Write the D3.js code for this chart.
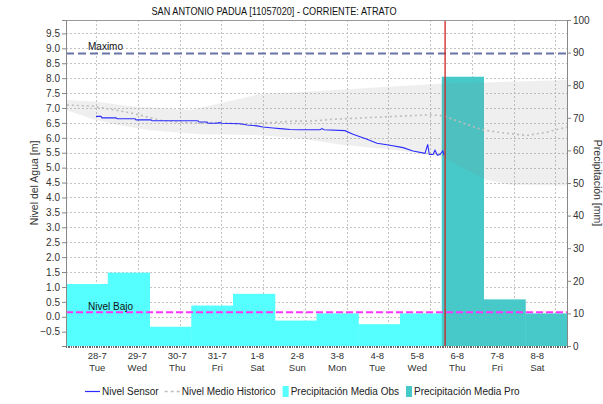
<!DOCTYPE html>
<html><head><meta charset="utf-8">
<script src="https://cdn.jsdelivr.net/npm/d3@7"></script>
<style>
body{margin:0;background:#fff;}
svg{display:block;font-family:"Liberation Sans",Arial,sans-serif;}
</style>
</head><body>
<svg id="c" width="603" height="404"></svg>
<script>
// ---------------- data ----------------
const chartTitle = "SAN ANTONIO PADUA [11057020] - CORRIENTE: ATRATO";
const dayLabels = ["28-7","29-7","30-7","31-7","1-8","2-8","3-8","4-8","5-8","6-8","7-8","8-8"];
const weekdayLabels = ["Tue","Wed","Thu","Fri","Sat","Sun","Mon","Tue","Wed","Thu","Fri","Sat"];
// daily precipitation [mm] (observed then forecast)
const precipObs = [19.0, 22.5, 5.9, 12.4, 16.0, 7.8, 10.0, 6.7, 10.0];
const precipPro = [82.6, 14.3, 10.0];
// sensor level: time in days since 28-7 00:00, level in m
const sensorDays = [0.719,0.838,0.862,1.198,1.222,1.653,1.677,2.036,2.060,3.162,3.186,3.377,3.401,3.617,3.665,3.737,4.168,4.335,4.575,4.719,4.958,5.198,5.365,5.605,6.084,6.132,6.180,6.683,6.874,7.210,7.449,7.760,8.072,8.311,8.599,8.663,8.702,8.790,8.838,8.893,8.958,9.023,9.061];
const sensorLevel = [6.72,6.72,6.67,6.67,6.64,6.64,6.60,6.60,6.57,6.57,6.53,6.53,6.49,6.49,6.51,6.49,6.47,6.43,6.40,6.36,6.33,6.30,6.28,6.27,6.27,6.31,6.27,6.24,6.12,5.95,5.82,5.75,5.67,5.56,5.48,5.78,5.44,5.44,5.58,5.42,5.44,5.56,5.41];
// historic mean level
const histDays = [0.02,0.647,1.461,1.772,2.251,2.730,3.210,3.689,4.168,4.647,5.437,5.844,6.395,7.593,8.719,9.030,9.437,9.988,10.563,11.042,11.521,12.0];
const histLevel = [7.10,7.06,6.86,6.76,6.59,6.52,6.49,6.52,6.46,6.49,6.56,6.56,6.62,6.70,6.77,6.74,6.53,6.26,6.15,6.08,6.19,6.36];
// historic range (band)
const bandUpperDays = [0,0.743,1.533,2.251,2.970,3.689,4.647,5.844,6.802,8.0,8.982,10.395,12.0];
const bandUpper = [7.27,7.21,7.06,7.00,6.93,7.16,7.47,7.55,7.64,7.74,7.81,7.87,7.94];
const bandLowerDays = [0,0.647,1.293,2.012,3.210,4.647,5.605,6.563,7.760,8.982,10.036,10.635,12.0];
const bandLower = [6.93,6.62,6.42,6.25,6.12,6.09,5.98,5.78,5.61,5.38,4.60,4.43,4.40];
const nivelMaximo = 8.83;
const nivelBajo = 0.15;
const nowDay = 9.08;
const gridDays = [0.72,1.72,2.72,3.72,4.72,5.72,6.72,7.72,8.72,9.72,10.72,11.72];
const levelTicks = d3.range(-0.5, 9.51, 0.5);
const precipTicks = d3.range(0, 101, 10);

// ---------------- layout ----------------
const L = 66, R = 567, T = 20, B = 346;
const svg = d3.select("#c");

const x = d3.scaleLinear().domain([0, 12]).range([L, R]);
const yL = d3.scaleLinear().domain([-0.98, 9.95]).range([B, T]);
const yR = d3.scaleLinear().domain([0, 100]).range([B, T]);
const xLab = d3.scalePoint().domain(d3.range(12)).range([97.3, 537.3]);

// background
svg.append("rect").attr("x", L).attr("y", T).attr("width", R - L).attr("height", B - T).attr("fill", "#fff");

// grid
const grid = svg.append("g").attr("stroke", "#c4c4c4").attr("stroke-width", 1).attr("stroke-dasharray", "2,2");
grid.selectAll("line.h").data(levelTicks).join("line")
  .attr("x1", L).attr("x2", R).attr("y1", d => Math.round(yL(d)) + 0.5).attr("y2", d => Math.round(yL(d)) + 0.5);
grid.selectAll("line.v").data(gridDays).join("line")
  .attr("x1", d => Math.round(x(d)) + 0.5).attr("x2", d => Math.round(x(d)) + 0.5).attr("y1", T).attr("y2", B);

// precipitation bars
svg.append("g").selectAll("rect").data(precipObs).join("rect")
  .attr("x", (d, i) => x(i)).attr("width", (d, i) => x(i + 1) - x(i) + 0.5)
  .attr("y", d => yR(d)).attr("height", d => B - yR(d)).attr("fill", "#55ffff");
svg.append("g").selectAll("rect").data(precipPro).join("rect")
  .attr("x", (d, i) => x(i + precipObs.length)).attr("width", (d, i) => x(i + 1) - x(i) + 0.5)
  .attr("y", d => yR(d)).attr("height", d => B - yR(d)).attr("fill", "#47c9c9");

// band
const bandPts = bandUpperDays.map((d, i) => [x(d), yL(bandUpper[i])])
  .concat(bandLowerDays.map((d, i) => [x(d), yL(bandLower[i])]).reverse());
svg.append("path").attr("d", d3.line()(bandPts) + "Z").attr("fill", "#808080").attr("fill-opacity", 0.13);

// historic mean (dotted)
svg.append("path")
  .attr("d", d3.line().x((d, i) => x(d)).y((d, i) => yL(histLevel[i]))(histDays))
  .attr("fill", "none").attr("stroke", "#bdbdbd").attr("stroke-width", 1.6).attr("stroke-dasharray", "2,3");

// sensor line
svg.append("path")
  .attr("d", d3.line().x(d => x(d)).y((d, i) => yL(sensorLevel[i]))(sensorDays))
  .attr("fill", "none").attr("stroke", "#2b2bff").attr("stroke-width", 1.1);

// reference levels
svg.append("line").attr("x1", L).attr("x2", R).attr("y1", yL(nivelMaximo)).attr("y2", yL(nivelMaximo))
  .attr("stroke", "#6874a6").attr("stroke-width", 2).attr("stroke-dasharray", "8,4");
svg.append("text").attr("x", 88).attr("y", yL(nivelMaximo) - 3).attr("font-size", 10).attr("fill", "#111").text("Maximo");
svg.append("line").attr("x1", L).attr("x2", R).attr("y1", yL(nivelBajo)).attr("y2", yL(nivelBajo))
  .attr("stroke", "#ff33ff").attr("stroke-width", 2).attr("stroke-dasharray", "7,3");
svg.append("text").attr("x", 88).attr("y", yL(nivelBajo) - 2).attr("font-size", 10).attr("fill", "#111").text("Nivel Bajo");

// now marker
svg.append("line").attr("x1", x(nowDay)).attr("x2", x(nowDay)).attr("y1", T).attr("y2", B)
  .attr("stroke", "#d02020").attr("stroke-width", 1.3);

// frame / axes
svg.append("line").attr("x1", L).attr("x2", R).attr("y1", T + 0.5).attr("y2", T + 0.5).attr("stroke", "#999");
const axL = svg.append("g").attr("transform", `translate(${L},0)`)
  .call(d3.axisLeft(yL).tickValues(levelTicks).tickFormat(d3.format(".1f")).tickSize(4).tickPadding(2));
const axR = svg.append("g").attr("transform", `translate(${R},0)`)
  .call(d3.axisRight(yR).tickValues(precipTicks).tickSize(4).tickPadding(2));
[axL, axR].forEach(a => {
  a.select(".domain").attr("stroke", "#888");
  a.selectAll(".tick line").attr("stroke", "#888");
  a.selectAll(".tick text").attr("font-size", 10).attr("fill", "#333").attr("font-family", "Liberation Sans, Arial, sans-serif");
});

// hourly minor ticks along the bottom
svg.append("g").selectAll("line").data(d3.range(0, 12 * 24 + 1)).join("line")
  .attr("x1", h => Math.round(x(h / 24)) + 0.5).attr("x2", h => Math.round(x(h / 24)) + 0.5)
  .attr("y1", B).attr("y2", B + 2).attr("stroke", "#666");

// x labels
const xl = svg.append("g").attr("font-size", 9.5).attr("fill", "#333").attr("text-anchor", "middle");
xl.selectAll("text.d").data(dayLabels).join("text").attr("x", (d, i) => xLab(i)).attr("y", 359).text(d => d);
xl.selectAll("text.w").data(weekdayLabels).join("text").attr("x", (d, i) => xLab(i)).attr("y", 371).text(d => d);

// axis titles
svg.append("text").attr("transform", "translate(38,183) rotate(-90)").attr("text-anchor", "middle")
  .attr("font-size", 10.5).attr("fill", "#333").text("Nivel del Agua [m]");
svg.append("text").attr("transform", "translate(594,183) rotate(90)").attr("text-anchor", "middle")
  .attr("font-size", 10.5).attr("fill", "#333").text("Precipitación [mm]");

// title
svg.append("text").attr("x", 274).attr("y", 15).attr("text-anchor", "middle").attr("font-size", 11)
  .attr("fill", "#111").attr("textLength", 245).attr("lengthAdjust", "spacingAndGlyphs").text(chartTitle);

// legend
const legendItems = [
  {name: "Nivel Sensor", type: "line", color: "#2b2bff"},
  {name: "Nivel Medio Historico", type: "dash", color: "#bdbdbd"},
  {name: "Precipitación Media Obs", type: "box", color: "#55ffff"},
  {name: "Precipitación Media Pro", type: "box", color: "#47c9c9"}
];
const lg = svg.append("g");
let cx = 85;
legendItems.forEach(it => {
  const g = lg.append("g");
  let sw;
  if (it.type === "box") {
    g.append("rect").attr("x", cx + 1).attr("y", 386).attr("width", 6).attr("height", 11).attr("fill", it.color);
    sw = 9;
  } else {
    g.append("line").attr("x1", cx).attr("x2", cx + 15).attr("y1", 391.5).attr("y2", 391.5)
      .attr("stroke", it.color).attr("stroke-width", it.type === "line" ? 1.2 : 1.5)
      .attr("stroke-dasharray", it.type === "dash" ? "3,3" : null);
    sw = 17;
  }
  const t = g.append("text").attr("x", cx + sw).attr("y", 395).attr("font-size", 10).attr("fill", "#222").text(it.name);
  cx += sw + t.node().getComputedTextLength() + 6;
});
</script>
</body></html>
